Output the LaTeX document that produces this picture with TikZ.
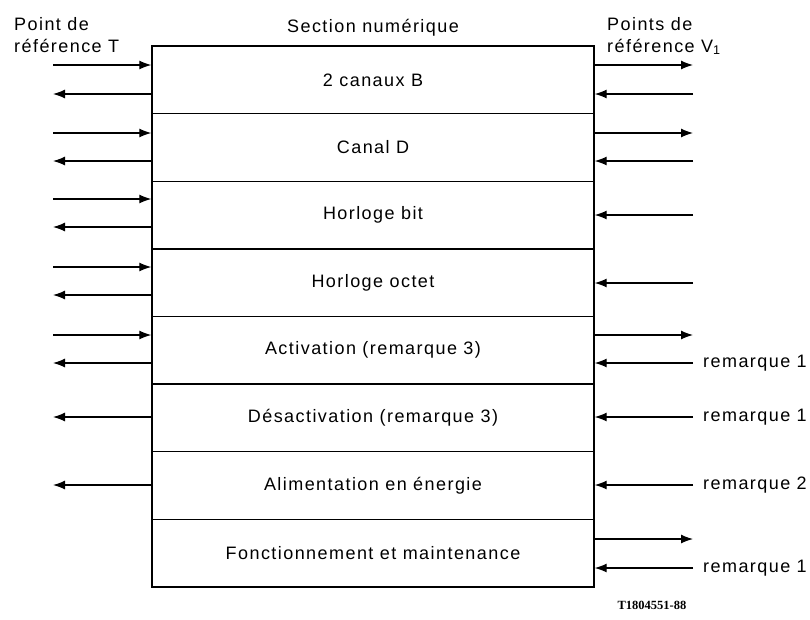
\documentclass[tikz,border=0pt]{standalone}
\usepackage{fontspec}
\setmainfont{Liberation Sans}[LetterSpace=8]
\newfontfamily\tagfont{Liberation Serif}
\usetikzlibrary{arrows.meta}
\tikzset{
every node/.style={font=\fontsize{18}{22}\selectfont},
row/.style={ % one layer of the section
draw, line width=1.4pt,
minimum width=442pt, minimum height=67.6pt,
inner sep=0pt},
sig/.style={ % one signal line
line width=1.2pt,
-{Latex[length=12pt,width=9pt]}},
note/.style={anchor=west, inner sep=0pt},
head/.style={anchor=north west, inner sep=0pt, align=left}}

\begin{document}
\begin{tikzpicture}[x=1pt, y=-1pt]
\useasboundingbox (0,0) rectangle (810,619);
% the layers
\node[row] (b1) at (373,79.8) {2 canaux B};
\node[row] (b2) at (373,147.4) {Canal D};
\node[row] (b3) at (373,215) {Horloge bit};
\node[row] (b4) at (373,282.6) {Horloge octet};
\node[row] (b5) at (373,350.2) {Activation (remarque 3)};
\node[row] (b6) at (373,417.8) {Désactivation (remarque 3)};
\node[row] (b7) at (373,485.4) {Alimentation en énergie};
\node[row] (b8) at (373,553) {Fonctionnement et maintenance};
% headings
\node[head] (pt) at (14,17) {Point de\\référence T};
\node[head] (pv) at (607,17) {Points de\\référence V\textsubscript{1}};
\node[anchor=south] (sec) at (b1.north) [yshift=6pt] {Section numérique};
\node[font=\tagfont\bfseries\fontsize{12.5}{14}\selectfont] (tag) at (652,605) {T1804551-88};
% outer ends on the side of T
\coordinate (t1) at (53,65);  \coordinate (t2) at (53,94);
\coordinate (t3) at (53,133); \coordinate (t4) at (53,161);
\coordinate (t5) at (53,199); \coordinate (t6) at (53,227);
\coordinate (t7) at (53,267); \coordinate (t8) at (53,295);
\coordinate (t9) at (53,335); \coordinate (t10) at (53,363);
\coordinate (t11) at (53,417); \coordinate (t12) at (53,485);
% outer ends on the side of V1
\coordinate (v1) at (693,65);  \coordinate (v2) at (693,94);
\coordinate (v3) at (693,133); \coordinate (v4) at (693,161);
\coordinate (v5) at (693,215); \coordinate (v6) at (693,283);
\coordinate (v7) at (693,335); \coordinate (v8) at (693,363);
\coordinate (v9) at (693,417); \coordinate (v10) at (693,485);
\coordinate (v11) at (693,539); \coordinate (v12) at (693,568);
% signals at T
\draw[sig] (t1) -- (t1 -| b1.west);
\draw[sig] (t2 -| b1.west) -- (t2);
\draw[sig] (t3) -- (t3 -| b2.west);
\draw[sig] (t4 -| b2.west) -- (t4);
\draw[sig] (t5) -- (t5 -| b3.west);
\draw[sig] (t6 -| b3.west) -- (t6);
\draw[sig] (t7) -- (t7 -| b4.west);
\draw[sig] (t8 -| b4.west) -- (t8);
\draw[sig] (t9) -- (t9 -| b5.west);
\draw[sig] (t10 -| b5.west) -- (t10);
\draw[sig] (t11 -| b6.west) -- (t11);
\draw[sig] (t12 -| b7.west) -- (t12);
% signals at V1
\draw[sig] (v1 -| b1.east) -- (v1);
\draw[sig] (v2) -- (v2 -| b1.east);
\draw[sig] (v3 -| b2.east) -- (v3);
\draw[sig] (v4) -- (v4 -| b2.east);
\draw[sig] (v5) -- (v5 -| b3.east);
\draw[sig] (v6) -- (v6 -| b4.east);
\draw[sig] (v7 -| b5.east) -- (v7);
\draw[sig] (v8) -- (v8 -| b5.east);
\draw[sig] (v9) -- (v9 -| b6.east);
\draw[sig] (v10) -- (v10 -| b7.east);
\draw[sig] (v11 -| b8.east) -- (v11);
\draw[sig] (v12) -- (v12 -| b8.east);
% notes
\node[note] (n1) at (703,363) {remarque 1};
\node[note] (n2) at (703,417) {remarque 1};
\node[note] (n3) at (703,485) {remarque 2};
\node[note] (n4) at (703,568) {remarque 1};
\end{tikzpicture}
\end{document}
